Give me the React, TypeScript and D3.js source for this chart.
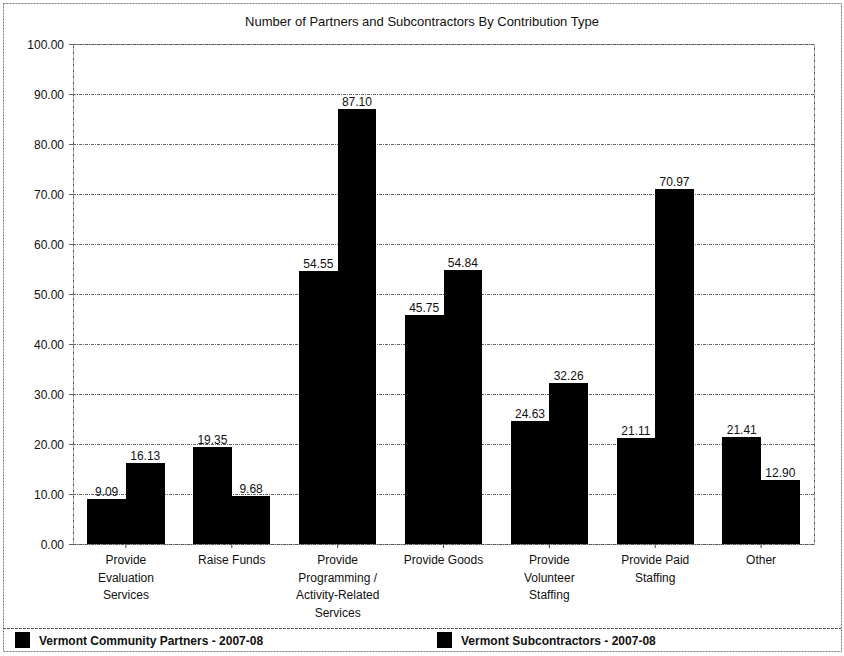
import React from "react";
import * as d3 from "d3";

const categories = [
  ["Provide", "Evaluation", "Services"],
  ["Raise Funds"],
  ["Provide", "Programming /", "Activity-Related", "Services"],
  ["Provide Goods"],
  ["Provide", "Volunteer", "Staffing"],
  ["Provide Paid", "Staffing"],
  ["Other"],
];
const partners = [9.09, 19.35, 54.55, 45.75, 24.63, 21.11, 21.41];
const subcontractors = [16.13, 9.68, 87.1, 54.84, 32.26, 70.97, 12.9];
const seriesNames = ["Vermont Community Partners - 2007-08", "Vermont Subcontractors - 2007-08"];
const yTicks = [0, 10, 20, 30, 40, 50, 60, 70, 80, 90, 100];
const title = "Number of Partners and Subcontractors By Contribution Type";

export default function App() {
  const W = 844, H = 656;
  const left = 73, right = 814, top = 44, bottom = 544;
  const font = "'Liberation Sans', Arial, sans-serif";
  const idx = categories.map((_, i) => String(i));
  const x = d3.scaleBand().domain(idx).range([left, right]).paddingInner(0.27).paddingOuter(0.135);
  const y = d3.scaleLinear().domain([0, 100]).range([bottom, top]);
  const band = d3.scaleBand().domain(["0", "1"]).range([0, x.bandwidth()]);
  const series = [partners, subcontractors];
  return (
    <svg width={W} height={H} style={{ position: "absolute", left: 0, top: 0, background: "#fff" }} fontFamily={font}>
      <rect x={3.5} y={3.5} width={838} height={648} fill="none" stroke="#777" strokeDasharray="2,1" />
      <text x={W / 2} y={26} textAnchor="middle" fontSize={13} fill="#111">{title}</text>
      {yTicks.map((t) => (
        <g key={t}>
          <line x1={left} x2={right} y1={y(t) + 0.5} y2={y(t) + 0.5} stroke="#666" strokeDasharray="3,1,1,1" />
          <line x1={left - 4} x2={left} y1={y(t) + 0.5} y2={y(t) + 0.5} stroke="#666" />
          <text x={64} y={y(t) + 4.5} textAnchor="end" fontSize={12} fill="#111">{t.toFixed(2)}</text>
        </g>
      ))}
      <rect x={left + 0.5} y={top + 0.5} width={right - left} height={bottom - top} fill="none" stroke="#555" strokeDasharray="3,1,1,1" />
      {categories.map((lines, i) => {
        const cx = (x(String(i)) as number) + x.bandwidth() / 2;
        return (
          <g key={i}>
            <line x1={cx} x2={cx} y1={bottom} y2={bottom + 4} stroke="#444" />
            {lines.map((l, j) => (
              <text key={j} x={cx} y={564 + j * 17.5} textAnchor="middle" fontSize={12} fill="#111">{l}</text>
            ))}
          </g>
        );
      })}
      {series.map((vals, s) =>
        vals.map((v, i) => {
          const bx = (x(String(i)) as number) + (band(String(s)) as number);
          const x0 = Math.round(bx);
          const x1 = Math.round(bx + band.bandwidth());
          return (
            <g key={s + "-" + i}>
              <rect x={x0} y={Math.round(y(v))} width={x1 - x0} height={bottom - Math.round(y(v))} fill="#000" shapeRendering="crispEdges" />
              <text x={bx + band.bandwidth() / 2} y={y(v) - 3} textAnchor="middle" fontSize={12} fill="#111">{v.toFixed(2)}</text>
            </g>
          );
        })
      )}
      <line x1={3} x2={841} y1={628.5} y2={628.5} stroke="#555" strokeDasharray="3,1" />
      {seriesNames.map((n, s) => {
        const lx = s === 0 ? 15 : 437;
        return (
          <g key={n}>
            <rect x={lx} y={632} width={15} height={16} fill="#000" />
            <text x={lx + 24} y={645} fontSize={12} fontWeight="bold" fill="#111">{n}</text>
          </g>
        );
      })}
    </svg>
  );
}
